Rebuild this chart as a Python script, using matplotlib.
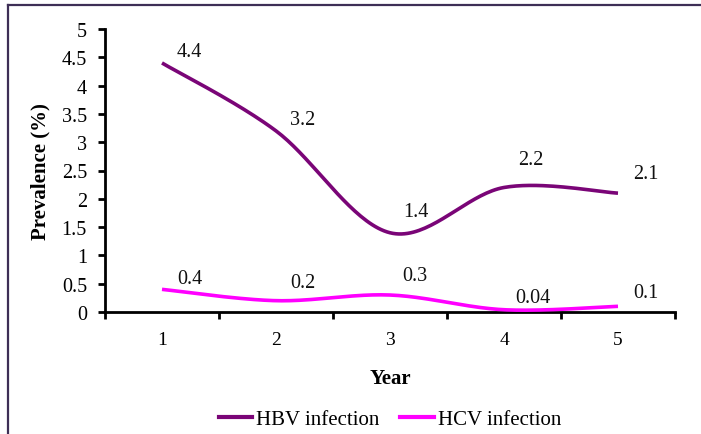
import numpy as np
import matplotlib
matplotlib.use("Agg")
import matplotlib.pyplot as plt
from matplotlib.lines import Line2D
from matplotlib.ticker import FixedLocator, FuncFormatter

# ---- data ----
years = [1, 2, 3, 4, 5]
hbv = [4.4, 3.2, 1.4, 2.2, 2.1]
hcv = [0.4, 0.2, 0.3, 0.04, 0.1]
hbv_labels = ["4.4", "3.2", "1.4", "2.2", "2.1"]
hcv_labels = ["0.4", "0.2", "0.3", "0.04", "0.1"]
series_names = ["HBV infection", "HCV infection"]
y_ticks = [0, 0.5, 1, 1.5, 2, 2.5, 3, 3.5, 4, 4.5, 5]

# label offsets in points (styling)
hbv_off = [(20, 8), (19, 8), (19, 15), (19, 20), (20, 14)]
hcv_off = [(20, 8), (19, 13), (18, 14), (21, 9), (20, 10)]

PURPLE = "#7a0577"
MAGENTA = "#ff00ff"
FONT = "Liberation Serif"


def smooth(x, y, n=40):
    """Excel-style smoothed line (Bezier with 1/6 neighbour control points)."""
    x = np.asarray(x, float)
    y = np.asarray(y, float)
    px = np.concatenate([[x[0]], x, [x[-1]]])
    py = np.concatenate([[y[0]], y, [y[-1]]])
    xs, ys = [], []
    t = np.linspace(0, 1, n)
    for i in range(len(x) - 1):
        p0 = np.array([px[i], py[i]])
        p1 = np.array([px[i + 1], py[i + 1]])
        p2 = np.array([px[i + 2], py[i + 2]])
        p3 = np.array([px[i + 3], py[i + 3]])
        c1 = p1 + (p2 - p0) / 6
        c2 = p2 - (p3 - p1) / 6
        b = (np.outer((1 - t) ** 3, p1) + np.outer(3 * (1 - t) ** 2 * t, c1)
             + np.outer(3 * (1 - t) * t ** 2, c2) + np.outer(t ** 3, p2))
        xs.append(b[:, 0])
        ys.append(b[:, 1])
    return np.concatenate(xs), np.concatenate(ys)


plt.rcParams["font.family"] = [FONT, "DejaVu Serif"]

fig = plt.figure(figsize=(7.01, 4.35), dpi=100)
ax = fig.add_axes([105 / 701, 1 - 313 / 435, (675 - 105) / 701, (313 - 30) / 435])

for vals, col in [(hbv, PURPLE), (hcv, MAGENTA)]:
    sx, sy = smooth(years, vals)
    ax.plot(sx, sy, color=col, lw=2.6, solid_capstyle="butt", zorder=3)

for vals, labs, offs in [(hbv, hbv_labels, hbv_off), (hcv, hcv_labels, hcv_off)]:
    for xv, yv, lab, off in zip(years, vals, labs, offs):
        ax.annotate(lab, (xv, yv), xytext=off, textcoords="offset points",
                    ha="center", va="center", fontsize=14.5, color="#111111")

ax.set_xlim(0.5, 5.5)
ax.set_ylim(0, 5)
ax.xaxis.set_major_locator(FixedLocator(years))
ax.xaxis.set_minor_locator(FixedLocator(np.arange(0.5, 5.6, 1.0)))
ax.yaxis.set_major_locator(FixedLocator(y_ticks))
ax.yaxis.set_major_formatter(FuncFormatter(lambda v, p: f"{v:g}"))

for s in ["top", "right"]:
    ax.spines[s].set_visible(False)
for s in ["left", "bottom"]:
    ax.spines[s].set_linewidth(2.0)
    ax.spines[s].set_color("black")

ax.tick_params(axis="x", which="major", length=0, pad=14, labelsize=14)
ax.tick_params(axis="x", which="minor", length=5, width=2.0, direction="out")
ax.tick_params(axis="y", which="major", length=5, width=2.0, direction="out",
               pad=8, labelsize=14.5)

ax.set_xlabel("Year", fontsize=15, fontweight="bold", labelpad=14)
ax.set_ylabel("Prevalence (%)", fontsize=15, fontweight="bold", labelpad=8)

handles = [Line2D([], [], color=PURPLE, lw=3), Line2D([], [], color=MAGENTA, lw=3)]
fig.legend(handles, series_names, loc="center", bbox_to_anchor=(390 / 701, 1 - 420 / 435),
           ncol=2, frameon=False, fontsize=15, handlelength=1.6, handletextpad=0.2,
           columnspacing=1.0)

# outer frame (left and top edges visible in the reference)
fig.add_artist(Line2D([8 / 701, 8 / 701], [0, 1 - 6 / 435], transform=fig.transFigure,
                      color="#3e2f56", lw=1.6))
fig.add_artist(Line2D([8 / 701, 1], [1 - 6 / 435, 1 - 6 / 435], transform=fig.transFigure,
                      color="#3e2f56", lw=1.6))

fig.savefig("out.png", dpi=100)
